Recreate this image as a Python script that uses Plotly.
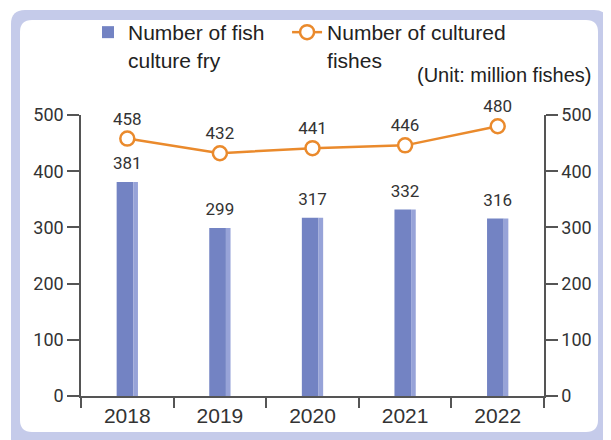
import plotly.graph_objects as go

years = ["2018", "2019", "2020", "2021", "2022"]
fry = [381, 299, 317, 332, 316]
cultured = [458, 432, 441, 446, 480]
y_ticks = [0, 100, 200, 300, 400, 500]

OFF = 8  # page body margin
W, H = 611 - OFF, 440 - OFF
L, R, T, B = 81 - OFF, 544 - OFF, 115 - OFF, 396 - OFF  # plot area in px


def px(x):
    return (x - OFF - L) / (R - L)


def py(y):
    return (B - (y - OFF)) / (B - T)


def rrect(x0, y0, x1, y1, r):
    p = [f"M {px(x0 + r)},{py(y0)}",
         f"L {px(x1 - r)},{py(y0)}",
         f"Q {px(x1)},{py(y0)} {px(x1)},{py(y0 + r)}",
         f"L {px(x1)},{py(y1 - r)}",
         f"Q {px(x1)},{py(y1)} {px(x1 - r)},{py(y1)}",
         f"L {px(x0 + r)},{py(y1)}",
         f"Q {px(x0)},{py(y1)} {px(x0)},{py(y1 - r)}",
         f"L {px(x0)},{py(y0 + r)}",
         f"Q {px(x0)},{py(y0)} {px(x0 + r)},{py(y0)}", "Z"]
    return " ".join(p)


fig = go.Figure()

# bar front face
fig.add_trace(go.Bar(
    x=years, y=fry, name="Number of fish\u00a0\u00a0\u00a0<br>culture fry",
    width=0.18, offset=-0.115,
    marker=dict(color="#7383c3", line=dict(width=0)),
    cliponaxis=False,
))
# bar side face (3D look)
fig.add_trace(go.Bar(
    x=years, y=fry, showlegend=False, hoverinfo="skip",
    width=0.05, offset=0.065,
    marker=dict(color="#97a3d8", line=dict(width=0)),
))
# bar value labels
fig.add_trace(go.Scatter(
    x=years, y=fry, mode="markers+text", showlegend=False, hoverinfo="skip",
    marker=dict(size=12, opacity=0),
    text=fry, textposition="top center",
    textfont=dict(family="Roboto", size=17, color="#333"),
    cliponaxis=False,
))

fig.add_trace(go.Scatter(
    x=years, y=cultured, name="Number of cultured<br>fishes",
    mode="lines+markers+text", yaxis="y2",
    line=dict(color="#ea8a2c", width=2.5),
    marker=dict(symbol="circle", size=14, color="white",
                line=dict(color="#ea8a2c", width=2.5)),
    text=cultured, textposition="top center",
    textfont=dict(family="Roboto", size=17, color="#333"),
    cliponaxis=False,
))

axis_common = dict(
    range=[0, 500], tickvals=y_ticks, ticks="outside", ticklen=12,
    tickwidth=1.5, tickcolor="#555", showline=True, linecolor="#555",
    linewidth=1.5, showgrid=False, zeroline=False,
    tickfont=dict(family="Roboto", size=18, color="#333"),
)

fig.update_layout(
    width=W, height=H,
    margin=dict(l=L, r=W - R, t=T, b=H - B),
    paper_bgcolor="white", plot_bgcolor="rgba(0,0,0,0)",
    barmode="overlay",
    xaxis=dict(
        type="category", range=[-0.5, 4.5], tickson="boundaries",
        ticks="outside", ticklen=10, tickwidth=1.5, tickcolor="#555",
        showline=True, linecolor="#555", linewidth=1.5, showgrid=False,
        tickfont=dict(family="Liberation Sans", size=21, color="#333"),
    ),
    yaxis=dict(side="left", **axis_common),
    yaxis2=dict(side="right", overlaying="y", **axis_common),
    legend=dict(
        orientation="h", xref="container", yref="container",
        x=(88 - OFF) / W, y=1 - (12 - OFF) / H, xanchor="left", yanchor="top",
        valign="top",
        bgcolor="rgba(0,0,0,0)",
        font=dict(family="Liberation Sans", size=21, color="#222"),
        traceorder="normal",
    ),
    showlegend=True,
    shapes=[
        dict(type="path", xref="paper", yref="paper", layer="below",
             path=rrect(11, 10, 608, 452, 14),
             fillcolor="#c5cbea", line=dict(width=0)),
        dict(type="path", xref="paper", yref="paper", layer="below",
             path=rrect(20, 20, 598, 432, 12),
             fillcolor="white", line=dict(width=0)),
    ],
    annotations=[
        dict(text="(Unit: million fishes)", xref="paper", yref="paper",
             x=px(593), y=py(75), xanchor="right", yanchor="middle",
             showarrow=False,
             font=dict(family="Liberation Sans", size=20, color="#222")),
    ],
)

fig.write_html("out.html")
